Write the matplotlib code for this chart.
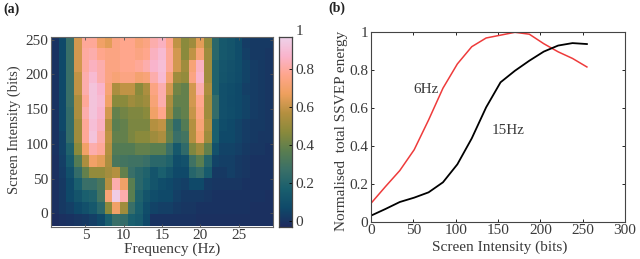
import matplotlib
matplotlib.use("Agg")
import matplotlib.pyplot as plt
from matplotlib.colors import LinearSegmentedColormap
import numpy as np

plt.rcParams['font.family'] = ['Liberation Serif', 'DejaVu Serif']

# (a) heatmap, top row first, columns are 1..29 Hz
row0 = [.03,.10,.30,.65,.82,.82,.72,.68,.78,.80,.80,.75,.78,.85,.88,.80,.62,.50,.55,.68,.52,.25,.17,.15,.12,.06,.05,.05,.05]
row1 = [.03,.10,.30,.65,.83,.85,.80,.78,.78,.80,.80,.78,.80,.88,.92,.82,.65,.50,.62,.75,.55,.25,.17,.15,.12,.07,.05,.05,.04]
row2 = [.03,.10,.30,.65,.83,.88,.85,.78,.78,.80,.80,.82,.85,.90,.93,.82,.65,.55,.75,.88,.55,.22,.16,.14,.12,.08,.06,.05,.04]
row3 = [.03,.10,.30,.62,.85,.92,.85,.78,.75,.78,.78,.74,.76,.85,.92,.75,.55,.52,.78,.90,.55,.22,.15,.13,.11,.08,.06,.05,.04]
row4 = [.03,.10,.30,.62,.85,.95,.90,.75,.58,.62,.62,.50,.58,.78,.85,.65,.45,.42,.65,.85,.58,.22,.13,.12,.10,.07,.06,.05,.04]
row5 = [.03,.10,.30,.58,.82,.95,.92,.72,.50,.50,.55,.52,.55,.75,.85,.58,.42,.42,.65,.80,.55,.28,.13,.11,.10,.08,.06,.05,.04]
row6 = [.03,.10,.28,.58,.85,.95,.90,.65,.42,.45,.48,.48,.50,.72,.80,.55,.38,.42,.63,.78,.55,.28,.13,.12,.10,.08,.06,.05,.04]
row7 = [.03,.10,.28,.55,.82,.93,.88,.60,.40,.42,.47,.47,.47,.60,.62,.40,.27,.38,.60,.75,.58,.20,.12,.10,.08,.06,.05,.05,.04]
row8 = [.03,.08,.28,.55,.82,.95,.85,.62,.42,.42,.47,.50,.50,.55,.58,.42,.30,.33,.60,.73,.55,.20,.10,.10,.08,.06,.05,.04,.04]
row9 = [.03,.08,.22,.50,.72,.85,.82,.60,.38,.38,.38,.42,.42,.40,.40,.30,.17,.27,.48,.55,.42,.14,.08,.08,.07,.05,.04,.04,.03]
row10 = [.02,.07,.18,.38,.58,.72,.68,.58,.35,.33,.32,.32,.30,.25,.25,.22,.12,.14,.32,.40,.24,.08,.07,.07,.05,.04,.03,.03,.03]
row11 = [.02,.06,.13,.28,.42,.52,.52,.56,.60,.42,.30,.25,.22,.15,.20,.15,.10,.10,.24,.28,.18,.05,.05,.07,.05,.04,.03,.03,.03]
row12 = [.02,.05,.10,.20,.30,.30,.35,.60,.85,.72,.40,.25,.20,.15,.12,.10,.08,.07,.10,.10,.05,.04,.04,.04,.04,.03,.03,.03,.03]
row13 = [.02,.05,.10,.15,.20,.22,.33,.75,.98,.85,.40,.22,.15,.12,.10,.10,.07,.05,.05,.05,.04,.03,.03,.03,.03,.03,.03,.03,.02]
row14 = [.02,.05,.07,.10,.13,.17,.25,.50,.72,.55,.30,.20,.12,.08,.07,.07,.05,.04,.04,.03,.03,.03,.03,.03,.03,.03,.02,.02,.02]
row15 = [.01,.02,.03,.04,.05,.07,.10,.20,.30,.28,.20,.18,.10,.03,.03,.03,.03,.03,.03,.02,.02,.02,.02,.02,.02,.02,.02,.02,.02]
energy = np.array([row0,row1,row2,row3,row4,row5,row6,row7,row8,row9,row10,row11,row12,row13,row14,row15])

# (b) curves
intensity = [0,17,34,51,68,85,102,119,136,153,170,187,204,221,238,255]
ssvep_6hz = [.097,.185,.27,.38,.537,.705,.833,.924,.97,.985,1.0,.99,.94,.897,.862,.817]
ssvep_15hz = [.032,.067,.104,.127,.155,.208,.303,.44,.604,.736,.797,.85,.898,.93,.943,.938]

cmap = LinearSegmentedColormap.from_list('helix', ['#1e2a5e','#0f4a6a','#1a5f6e','#3a7068','#5a7e50','#8a8a3c',
                                                   '#b59040','#eea05e','#ffa68c','#fab4cc','#eed2ea'])
W, H = 640, 259
tcol = '#3a3a3a'
fs = 11

def box(x0, y0, x1, y1):
    return [x0/W, 1-y1/H, (x1-x0)/W, (y1-y0)/H]

fig = plt.figure(figsize=(6.4, 2.59), dpi=100)

# heatmap
ax = fig.add_axes(box(51, 37, 273, 226.5))
ax.imshow(energy, cmap=cmap, vmin=0, vmax=1, aspect='auto', interpolation='nearest',
          extent=(0.5, 29.5, -19, 254))
ax.set_xticks([5, 10, 15, 20, 25])
ax.set_yticks([0, 50, 100, 150, 200, 250])
ax.tick_params(direction='in', length=2, width=0.6, top=True, right=True, color='#555555',
               labelsize=fs, labelcolor=tcol, pad=2)
ax.set_xlabel('Frequency (Hz)', fontsize=11, color=tcol, labelpad=0, x=0.547)
ax.set_ylabel('Screen Intensity (bits)', fontsize=10.5, color=tcol, labelpad=3, y=0.51)
for s in ax.spines.values():
    s.set_color('#666666')
    s.set_linewidth(0.8)

# colorbar
cax = fig.add_axes(box(279, 37, 291.5, 226.5))
grad = np.linspace(0, 1, 256).reshape(-1, 1)
cax.imshow(grad, cmap=cmap, aspect='auto', origin='lower', extent=(0, 1, -0.03, 0.97))
cax.set_ylim(-0.03, 0.97)
cax.set_xticks([])
cax.yaxis.tick_right()
cax.set_yticks([0, .2, .4, .6, .8])
cax.set_yticklabels(['0', '0.2', '0.4', '0.6', '0.8'])
cax.tick_params(direction='in', length=2, width=0.6, labelsize=fs, labelcolor=tcol, pad=3)
cax.text(1.3, 1.0, '1', fontsize=fs, color=tcol, va='center', ha='left', clip_on=False,
         transform=cax.get_yaxis_transform())
for s in cax.spines.values():
    s.set_color('#444444')
    s.set_linewidth(0.9)

# curves
bx = fig.add_axes(box(371, 32.3, 625, 221.7))
bx.plot(intensity, ssvep_6hz, color='#ee3b3b', lw=1.1)
bx.plot(intensity, ssvep_15hz, color='black', lw=1.3)
bx.set_xlim(0, 300)
bx.set_ylim(0, 1)
bx.set_xticks([0, 50, 100, 150, 200, 250, 300])
bx.set_yticks([0, .2, .4, .6, .8, 1])
bx.set_yticklabels(['0', '0.2', '0.4', '0.6', '0.8', '1'])
bx.tick_params(direction='in', length=2, width=0.6, top=True, right=True,
               labelsize=fs, labelcolor=tcol, pad=2)
bx.set_xlabel('Screen Intensity (bits)', fontsize=fs, color=tcol, labelpad=2, x=0.506)
bx.set_ylabel('Normalised  total SSVEP energy', fontsize=11, color=tcol, labelpad=1, y=0.479)
bx.text(50, 0.70, '6Hz', fontsize=11, color=tcol, va='center', ha='left')
bx.text(142, 0.48, '15Hz', fontsize=11, color=tcol, va='center', ha='left')
for s in bx.spines.values():
    s.set_color('#444444')
    s.set_linewidth(0.8)

fig.text(3/W, 1-9/H, '(a)', fontsize=10, fontweight='bold', color='#222222', va='center')
fig.text(328/W, 1-8/H, '(b)', fontsize=10, fontweight='bold', color='#222222', va='center')

fig.savefig('out.png', dpi=100)
